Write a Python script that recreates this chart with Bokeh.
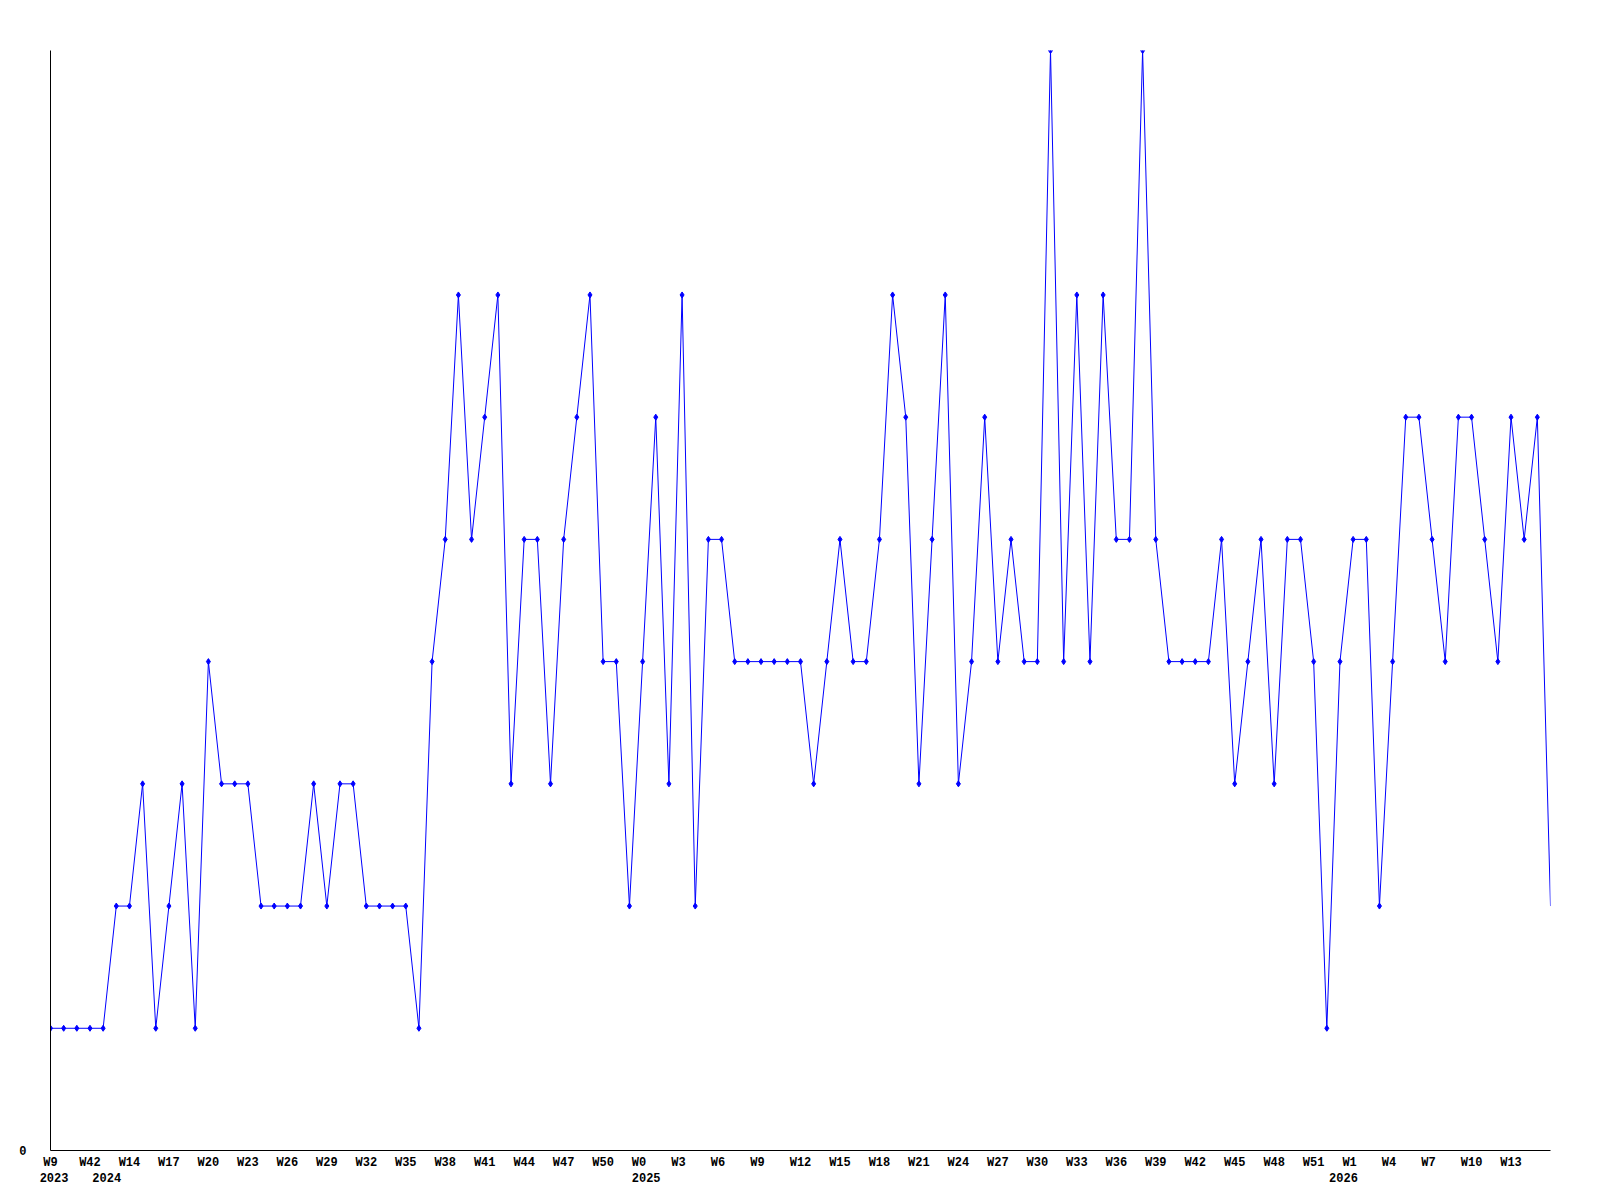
from bokeh.plotting import figure
from bokeh.models import Range1d, FixedTicker, LinearAxis, ColumnDataSource, CustomJSTickFormatter
from bokeh.embed import file_html
from bokeh.resources import INLINE

# weekly counts, one per point (index 0 .. 114)
values = [
    1, 1, 1, 1, 1, 2, 2, 3, 1, 2,
    3, 1, 4, 3, 3, 3, 2, 2, 2, 2,
    3, 2, 3, 3, 2, 2, 2, 2, 1, 4,
    5, 7, 5, 6, 7, 3, 5, 5, 3, 5,
    6, 7, 4, 4, 2, 4, 6, 3, 7, 2,
    5, 5, 4, 4, 4, 4, 4, 4, 3, 4,
    5, 4, 4, 5, 7, 6, 3, 5, 7, 3,
    4, 6, 4, 5, 4, 4, 9, 4, 7, 4,
    7, 5, 5, 9, 5, 4, 4, 4, 4, 5,
    3, 4, 5, 3, 5, 5, 4, 1, 4, 5,
    5, 2, 4, 6, 6, 5, 4, 6, 6, 5,
    4, 6, 5, 6, 2,
]

tick_labels = ["W9", "W42", "W14", "W17", "W20", "W23", "W26", "W29", "W32", "W35",
               "W38", "W41", "W44", "W47", "W50", "W0", "W3", "W6", "W9", "W12",
               "W15", "W18", "W21", "W24", "W27", "W30", "W33", "W36", "W39", "W42",
               "W45", "W48", "W51", "W1", "W4", "W7", "W10", "W13"]
tick_every = 3

year_labels = ["2023", "2024", "2025", "2026"]
year_index = [0, 4, 45, 98]

y_max = 9

n = len(values)
xs = list(range(n))
src = ColumnDataSource(dict(x=xs, y=values))
mk = ColumnDataSource(dict(x=xs[:-1], y=values[:-1]))

FONT = "Liberation Mono"

p = figure(frame_width=1500, frame_height=1100,
           min_border_left=50, min_border_top=50, min_border_right=50, min_border_bottom=10,
           x_range=Range1d(0, n - 1), y_range=Range1d(0, y_max),
           output_backend="svg", toolbar_location=None,
           x_axis_location=None, y_axis_location=None)
p.xgrid.visible = False
p.ygrid.visible = False
p.outline_line_color = None
p.background_fill_color = "white"
p.border_fill_color = "white"

p.line("x", "y", source=src, line_color="#0000FF", line_width=1)
p.scatter("x", "y", source=mk, marker="diamond", size=6, fill_color="#0000FF", line_color="#0000FF")

def shifted(idx, lab):
    return max(0.0, min(n - 1.0, idx + (len(lab) - 3) * 0.27))

tick_pos = [shifted(i * tick_every, l) for i, l in enumerate(tick_labels)]
year_pos = [shifted(i, l) for i, l in zip(year_index, year_labels)]

code = """
let best = 0, d = 1e9;
for (let i = 0; i < pos.length; i++) { const dd = Math.abs(pos[i] - tick); if (dd < d) { d = dd; best = i; } }
return lab[best];
"""

xa = LinearAxis(ticker=FixedTicker(ticks=tick_pos, minor_ticks=[]),
                formatter=CustomJSTickFormatter(args=dict(pos=tick_pos, lab=tick_labels), code=code))
xa.axis_line_color = "black"
xa.axis_line_width = 1
xa.major_tick_line_color = None
xa.major_tick_out = 0
xa.major_tick_in = 0
xa.minor_tick_line_color = None
xa.major_label_standoff = 5
xa.major_label_text_font = FONT
xa.major_label_text_font_style = "bold"
xa.major_label_text_font_size = "12px"
xa.major_label_text_color = "black"
p.add_layout(xa, "below")

ya2 = LinearAxis(ticker=FixedTicker(ticks=year_pos, minor_ticks=[]),
                 formatter=CustomJSTickFormatter(args=dict(pos=year_pos, lab=year_labels), code=code))
ya2.axis_line_color = None
ya2.major_tick_line_color = None
ya2.major_tick_out = 0
ya2.major_tick_in = 0
ya2.minor_tick_line_color = None
ya2.major_label_standoff = 0
ya2.major_label_text_font = FONT
ya2.major_label_text_font_style = "bold"
ya2.major_label_text_font_size = "12px"
ya2.major_label_text_color = "black"
p.add_layout(ya2, "below")

ya = LinearAxis(ticker=FixedTicker(ticks=[0], minor_ticks=[]))
ya.axis_line_color = "black"
ya.axis_line_width = 1
ya.major_tick_line_color = None
ya.major_tick_out = 0
ya.major_tick_in = 0
ya.minor_tick_line_color = None
ya.major_label_standoff = 24
ya.major_label_text_font = FONT
ya.major_label_text_font_style = "bold"
ya.major_label_text_font_size = "12px"
ya.major_label_text_color = "black"
p.add_layout(ya, "left")

open("out.html", "w").write(file_html(p, INLINE))
